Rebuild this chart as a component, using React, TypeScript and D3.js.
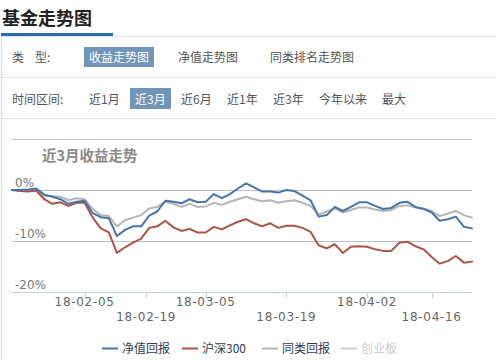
import React from "react";
import * as d3 from "d3";

const dates = [
  "2018-01-23","2018-01-24","2018-01-25","2018-01-26","2018-01-29","2018-01-30","2018-01-31",
  "2018-02-01","2018-02-02","2018-02-05","2018-02-06","2018-02-07","2018-02-08","2018-02-09",
  "2018-02-12","2018-02-13","2018-02-14","2018-02-22","2018-02-23","2018-02-26","2018-02-27","2018-02-28",
  "2018-03-01","2018-03-02","2018-03-05","2018-03-06","2018-03-07","2018-03-08","2018-03-09",
  "2018-03-12","2018-03-13","2018-03-14","2018-03-15","2018-03-16","2018-03-19","2018-03-20",
  "2018-03-21","2018-03-22","2018-03-23","2018-03-26","2018-03-27","2018-03-28","2018-03-29","2018-03-30",
  "2018-04-02","2018-04-03","2018-04-04","2018-04-09","2018-04-10","2018-04-11","2018-04-12","2018-04-13",
  "2018-04-16","2018-04-17","2018-04-18","2018-04-19","2018-04-20","2018-04-23",
];

const navReturn = [
  0, 0, 0.1, 0.3, -0.9, -1.3, -1.8, -2.7, -2.3, -2.1,
  -4.5, -5.3, -5.5, -9.0, -7.8, -7.1, -7.1, -5.0, -4.2, -2.1,
  -2.3, -2.6, -1.8, -2.4, -2.3, -0.8, -1.6, -0.8, 0.3, 1.3,
  0.5, -0.3, -0.3, -0.5, 0.0, -0.2, -1.1, -2.0, -5.2, -4.9,
  -3.3, -4.1, -3.3, -2.4, -2.4, -3.1, -3.7, -3.5, -2.5, -2.3,
  -3.3, -3.7, -4.4, -6.0, -5.7, -5.2, -7.2, -7.5,
];

const hs300Return = [
  0, -0.2, -0.3, -0.1, -1.8, -2.7, -2.4, -3.1, -2.5, -2.5,
  -5.4, -7.5, -8.3, -12.3, -11.2, -10.3, -9.5, -7.4, -7.1, -6.0,
  -7.3, -8.0, -7.6, -8.3, -8.3, -7.2, -7.7, -6.9, -6.2, -5.7,
  -6.5, -7.1, -6.5, -7.4, -7.0, -7.0, -7.4, -8.2, -10.8, -11.4,
  -10.6, -12.3, -11.1, -11.0, -11.1, -11.6, -11.9, -11.9, -10.3, -10.1,
  -11.0, -11.6, -13.1, -14.4, -13.9, -12.9, -14.2, -14.0,
];

const peerReturn = [
  0, -0.1, -0.2, -0.2, -1.1, -1.2, -1.3, -2.0, -1.6, -1.8,
  -3.7, -4.9, -5.1, -7.1, -5.9, -5.4, -4.9, -3.6, -3.3, -2.3,
  -2.7, -3.3, -2.7, -3.3, -3.2, -2.5, -2.9, -2.3, -1.8, -1.3,
  -1.8, -2.2, -2.0, -2.5, -2.2, -2.0, -2.5, -3.1, -4.8, -4.2,
  -3.6, -4.4, -3.9, -3.4, -3.4, -3.8, -4.1, -3.9, -3.1, -3.0,
  -3.4, -3.6, -4.1, -5.1, -4.6, -4.1, -4.9, -5.4,
];

const gridValues = [10, 0, -10, -20];
const yLabelValues = [0, -10, -20];
const xTickDates = ["2018-02-05", "2018-02-19", "2018-03-05", "2018-03-19", "2018-04-02", "2018-04-16"];
const xTickLabels = ["18-02-05", "18-02-19", "18-03-05", "18-03-19", "18-04-02", "18-04-16"];

const typeTabs = ["收益走势图", "净值走势图", "同类排名走势图"];
const periodTabs = ["近1月", "近3月", "近6月", "近1年", "近3年", "今年以来", "最大"];
const legendNames = ["净值回报", "沪深300", "同类回报", "创业板"];

const CJK = "'Noto Sans CJK SC', 'Noto Sans', sans-serif";
const LAT = "'DejaVu Sans', 'Noto Sans CJK SC', sans-serif";

export default function App() {
  const W = 496, H = 360;
  const parse = d3.timeParse("%Y-%m-%d");
  const times = dates.map((d) => parse(d)!.getTime());
  const x = d3.scaleLinear().domain([0, dates.length - 1]).range([12, 472]);
  const y = d3.scaleLinear().domain([-20, 10]).range([292.3, 138.9]);

  const ordinalPos = (ds: string) => {
    const t = parse(ds)!.getTime();
    const i = d3.bisectRight(times, t) - 1;
    if (i >= times.length - 1) return x(times.length - 1);
    const frac = (t - times[i]) / (times[i + 1] - times[i]);
    return x(i + frac);
  };

  const line = d3
    .line<number>()
    .x((_, i) => x(i))
    .y((v) => y(v));

  const series = [
    { name: legendNames[0], data: navReturn, color: "#4774aa" },
    { name: legendNames[1], data: hs300Return, color: "#ad5444" },
    { name: legendNames[2], data: peerReturn, color: "#b5b5b5" },
  ];
  const drawOrder = [series[2], series[1], series[0]];

  const typeX = [84, 178, 270];
  const typeW = [70, 60, 84];
  const periodX = [89, 135, 181, 227, 273, 319, 382];
  const legendX = [102, 182, 262, 341];
  const legendColors = ["#4774aa", "#ad5444", "#b5b5b5", "#cccccc"];

  return (
    <svg
      width={W}
      height={H}
      style={{ position: "absolute", left: 0, top: 0, background: "#fff" }}
    >
      {/* header */}
      <text x={2} y={25} fontFamily={CJK} fontWeight="bold" fontSize={18} fill="#222">
        基金走势图
      </text>
      <line x1={0} x2={W} y1={36.5} y2={36.5} stroke="#dde3e8" strokeWidth={1} />
      <rect x={1} y={33} width={112} height={3} fill="#2a6db0" />
      <line x1={1.5} x2={1.5} y1={36} y2={H} stroke="#dde3e8" strokeWidth={1.5} />

      {/* row 1 */}
      <text x={12} y={61.5} fontFamily={CJK} fontSize={12} fill="#555">类</text>
      <text x={35} y={61.5} fontFamily={CJK} fontSize={12} fill="#555">型:</text>
      <rect x={84} y={47} width={70} height={20} fill="#7195b9" />
      {typeTabs.map((t, i) => (
        <text
          key={t}
          x={i === 0 ? typeX[i] + typeW[i] / 2 : typeX[i]}
          y={61.5}
          textAnchor={i === 0 ? "middle" : "start"}
          fontFamily={CJK}
          fontSize={12}
          fill={i === 0 ? "#fff" : "#555"}
        >
          {t}
        </text>
      ))}
      <line x1={1} x2={W} y1={77.5} y2={77.5} stroke="#dde3e8" />

      {/* row 2 */}
      <text x={12} y={103.5} fontFamily={CJK} fontSize={12} fill="#555">时间区间:</text>
      <rect x={130} y={88} width={41} height={21} fill="#7195b9" />
      {periodTabs.map((t, i) => (
        <text
          key={t}
          x={periodX[i]}
          y={103.5}
          fontFamily={CJK}
          fontSize={12}
          fill={i === 1 ? "#fff" : "#555"}
        >
          {t}
        </text>
      ))}
      <line x1={1} x2={W} y1={118.5} y2={118.5} stroke="#dde3e8" />

      {/* chart */}
      <text x={42} y={161} fontFamily={CJK} fontWeight="bold" fontSize={14.5} fill="#8a8a8a">
        近3月收益走势
      </text>
      {gridValues.slice(0, 3).map((v) => (
        <line
          key={v}
          x1={12}
          x2={472}
          y1={Math.round(y(v)) + 0.5}
          y2={Math.round(y(v)) + 0.5}
          stroke="#c0c0c0"
          strokeWidth={1}
        />
      ))}
      <line x1={12} x2={472} y1={292.5} y2={292.5} stroke="#c0d0e0" strokeWidth={1} />
      {xTickDates.map((d) => {
        const px = Math.round(ordinalPos(d)) + 0.5;
        return <line key={d} x1={px} x2={px} y1={292} y2={298} stroke="#c0d0e0" />;
      })}
      {xTickDates.map((d, i) => (
        <text
          key={d}
          x={ordinalPos(d)}
          y={i % 2 === 0 ? 306 : 321}
          textAnchor="middle"
          fontFamily={LAT}
          fontSize={12}
          letterSpacing={0.7}
          fill="#666"
        >
          {xTickLabels[i]}
        </text>
      ))}
      {yLabelValues.map((v) => (
        <text key={v} x={15} y={y(v) - 3} fontFamily={LAT} fontSize={12} fill="#777">
          {v === 0 ? "0%" : `-${Math.abs(v)}%`}
        </text>
      ))}

      {drawOrder.map((s) => (
        <path
          key={s.name}
          d={line(s.data) || ""}
          fill="none"
          stroke={s.color}
          strokeWidth={2}
          strokeLinejoin="round"
          strokeLinecap="round"
        />
      ))}

      {/* legend */}
      {legendNames.map((n, i) => (
        <g key={n}>
          <line
            x1={legendX[i]}
            x2={legendX[i] + 16}
            y1={348.5}
            y2={348.5}
            stroke={legendColors[i]}
            strokeWidth={2}
          />
          <text
            x={legendX[i] + 20}
            y={353}
            fontFamily={CJK}
            fontSize={12}
            fill={i === 3 ? "#cccccc" : "#2e3d4f"}
          >
            {n}
          </text>
        </g>
      ))}
    </svg>
  );
}
